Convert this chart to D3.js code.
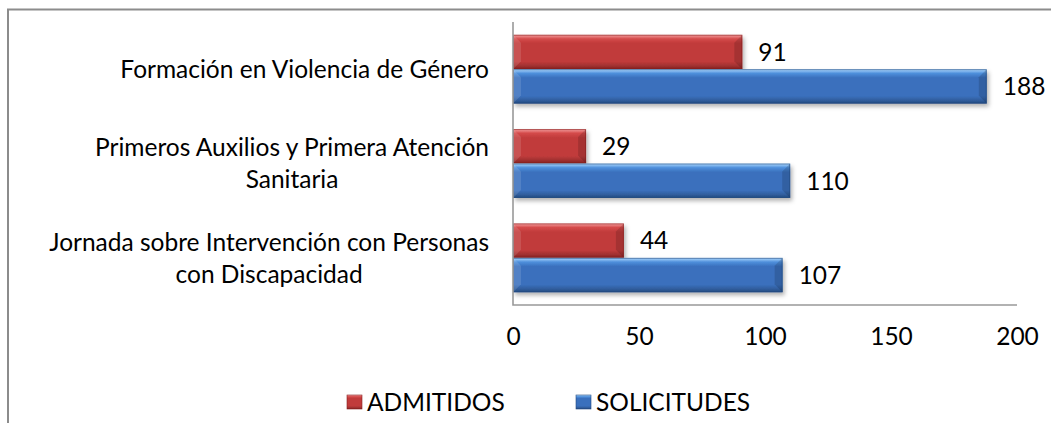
<!DOCTYPE html>
<html>
<head>
<meta charset="utf-8">
<script src="https://cdn.jsdelivr.net/npm/d3@7"></script>
<style>
  html, body { margin: 0; padding: 0; background: #fff; }
  text { font-family: Lato, "Open Sans", sans-serif; fill: #000; }
</style>
</head>
<body>
<div id="chart"></div>
<script>
// --- data ---
const categories = ["Formación en Violencia de Género", "Primeros Auxilios y Primera Atención Sanitaria", "Jornada sobre Intervención con Personas con Discapacidad"];
const categoryLines = [
  ["Formación en Violencia de Género"],
  ["Primeros Auxilios y Primera Atención", "Sanitaria"],
  ["Jornada sobre Intervención con Personas", "con Discapacidad"]
];
const seriesNames = ["ADMITIDOS", "SOLICITUDES"];
const admitidos = [91, 29, 44];
const solicitudes = [188, 110, 107];
const xTicks = [0, 50, 100, 150, 200];

const W = 1051, H = 423;
const fontSize = 24.5;

const svg = d3.select("#chart").append("svg")
  .attr("width", W).attr("height", H);

const defs = svg.append("defs");

// bevelled look: vertical gradient per series
const palettes = {
  ADMITIDOS:   { light: "#f6a3a3", mid: "#d44a4a", main: "#c13b3b", dark: "#86201f" },
  SOLICITUDES: { light: "#b3dcff", mid: "#4f90dc", main: "#3a70bd", dark: "#22497f" }
};
seriesNames.forEach((s, i) => {
  const p = palettes[s];
  const g = defs.append("linearGradient")
    .attr("id", "grad" + i)
    .attr("x1", 0).attr("y1", 0).attr("x2", 0).attr("y2", 1);
  [[0, p.light], [0.12, p.mid], [0.25, p.main], [0.78, p.main], [0.9, d3.color(p.main).darker(0.5)], [1, p.dark]]
    .forEach(([o, c]) => g.append("stop").attr("offset", o).attr("stop-color", c));
});

const shadow = defs.append("filter").attr("id", "shadow")
  .attr("x", "-5%").attr("y", "-20%").attr("width", "115%").attr("height", "160%");
shadow.append("feDropShadow")
  .attr("dx", 2).attr("dy", 3).attr("stdDeviation", 2)
  .attr("flood-color", "#000").attr("flood-opacity", 0.3);

// outer frame (only top and left visible in the crop)
svg.append("path")
  .attr("d", "M8,423 V9.5 H1051")
  .attr("fill", "none").attr("stroke", "#8c8c8c").attr("stroke-width", 2);

// scales
const x = d3.scaleLinear().domain([0, 200]).range([513, 1017]);
const y = d3.scaleBand().domain(categories).range([22, 305])
  .paddingInner(0.27).paddingOuter(0.135);
const ys = d3.scaleBand().domain(seriesNames).range([0, y.bandwidth()]);

const rows = categories.map((c, i) => ({
  cat: c,
  vals: [
    { s: "ADMITIDOS", v: admitidos[i], k: 0 },
    { s: "SOLICITUDES", v: solicitudes[i], k: 1 }
  ]
}));

// bars
const bevel = 8;
const groups = svg.append("g").selectAll("g")
  .data(rows).join("g")
  .attr("transform", d => `translate(0,${y(d.cat)})`);

const bar = groups.selectAll("g.bar")
  .data(d => d.vals).join("g")
  .attr("class", "bar");

bar.append("rect")
  .attr("x", x(0))
  .attr("y", d => ys(d.s))
  .attr("width", d => x(d.v) - x(0))
  .attr("height", ys.bandwidth())
  .attr("fill", d => `url(#grad${d.k})`)
  .attr("filter", "url(#shadow)");

// left and right bevel faces
bar.append("path")
  .attr("d", d => {
    const x0 = x(0), y0 = ys(d.s), h = ys.bandwidth();
    return `M${x0},${y0} L${x0 + bevel},${y0 + bevel} L${x0 + bevel},${y0 + h - bevel} L${x0},${y0 + h} Z`;
  })
  .attr("fill", "#fff").attr("opacity", 0.12);
bar.append("path")
  .attr("d", d => {
    const x1 = x(d.v), y0 = ys(d.s), h = ys.bandwidth();
    return `M${x1},${y0} L${x1 - bevel},${y0 + bevel} L${x1 - bevel},${y0 + h - bevel} L${x1},${y0 + h} Z`;
  })
  .attr("fill", "#000").attr("opacity", 0.14);
bar.append("rect")
  .attr("x", x(0) + 0.5)
  .attr("y", d => ys(d.s) + 0.5)
  .attr("width", d => x(d.v) - x(0) - 1)
  .attr("height", ys.bandwidth() - 1)
  .attr("fill", "none")
  .attr("stroke", d => palettes[d.s].dark)
  .attr("stroke-opacity", 0.6);

// value labels
bar.append("text")
  .attr("x", d => x(d.v) + 16)
  .attr("y", d => ys(d.s) + ys.bandwidth() / 2)
  .attr("dy", "0.36em")
  .attr("font-size", fontSize)
  .text(d => d.v);

// axes lines
svg.append("path")
  .attr("d", `M${x(0)},22 V305 H${x(200)}`)
  .attr("fill", "none").attr("stroke", "#999").attr("stroke-width", 1.6);

// x tick labels
const xAxis = svg.append("g")
  .attr("transform", "translate(0,305)")
  .call(d3.axisBottom(x).tickValues(xTicks).tickSize(0).tickPadding(23));
xAxis.select(".domain").remove();
xAxis.selectAll("text")
  .attr("font-size", fontSize)
  .attr("font-family", null)
  .attr("fill", "#000");

// category labels, each block centred on its widest line and right aligned
const labelRight = 489;
const lineH = 32;
categories.forEach((c, i) => {
  const lines = categoryLines[i];
  const t = svg.append("text")
    .attr("font-size", fontSize)
    .attr("text-anchor", "middle");
  const cy = y(c) + y.bandwidth() / 2;
  lines.forEach((ln, j) => {
    t.append("tspan")
      .attr("y", cy + (j - (lines.length - 1) / 2) * lineH)
      .attr("dy", "0.36em")
      .text(ln);
  });
  let maxW = 0;
  t.selectAll("tspan").each(function () {
    maxW = Math.max(maxW, this.getComputedTextLength());
  });
  t.selectAll("tspan").attr("x", labelRight - maxW / 2);
});

// legend
const legendX = [347, 576];
const legend = svg.append("g").selectAll("g")
  .data(seriesNames).join("g")
  .attr("transform", (d, i) => `translate(${legendX[i]},395)`);
legend.append("rect")
  .attr("width", 15).attr("height", 14)
  .attr("fill", (d, i) => `url(#grad${i})`)
  .attr("stroke", d => palettes[d].dark).attr("stroke-width", 0.6);
legend.append("text")
  .attr("x", 20).attr("y", 7).attr("dy", "0.36em")
  .attr("font-size", fontSize)
  .text(d => d);
</script>
</body>
</html>
